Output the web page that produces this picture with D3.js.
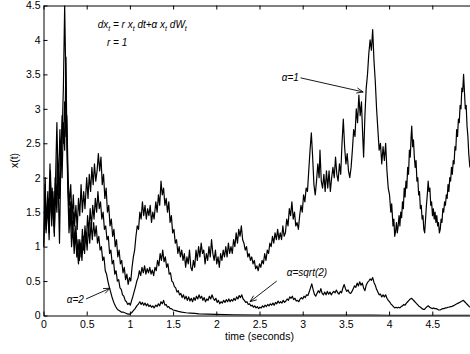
<!DOCTYPE html>
<html>
<head>
<meta charset="utf-8">
<script src="https://cdn.jsdelivr.net/npm/d3@7"></script>
<style>
  html, body { margin: 0; padding: 0; background: #fff; }
  svg { display: block; font-family: "Liberation Sans", Arial, Helvetica, sans-serif; }
</style>
</head>
<body>
<div id="chart"></div>
<script>
/* === Geometric Brownian motion paths, dx = r x dt + alpha x dW === */

var X_TICKS = [0, 0.5, 1, 1.5, 2, 2.5, 3, 3.5, 4, 4.5];
var Y_TICKS = [0, 0.5, 1, 1.5, 2, 2.5, 3, 3.5, 4, 4.5];
var X_LABEL = 'time (seconds)';
var Y_LABEL = 'x(t)';

// alpha = 1 (top path), [t, x]
var PATH_A1 = [[0,1.0],[0.02,1.9],[0.03,1.3],[0.05,1.7],[0.06,1.4],[0.075,2.2],[0.09,1.5],[0.1,1.85],[0.12,1.3],[0.135,2.0],[0.15,1.6],[0.16,2.4],[0.175,1.9],[0.19,2.7],[0.2,2.2],[0.215,2.9],[0.23,2.5],[0.245,3.1],[0.26,2.6],[0.27,2.9],[0.285,2.0],[0.3,1.6],[0.315,1.9],[0.33,1.4],[0.345,1.75],[0.36,1.3],[0.375,1.6],[0.39,1.25],[0.405,1.7],[0.42,1.45],[0.435,1.9],[0.45,1.5],[0.465,1.8],[0.48,1.55],[0.5,2.0],[0.515,1.7],[0.53,2.05],[0.545,1.8],[0.56,2.15],[0.575,1.9],[0.59,2.2],[0.605,1.95],[0.62,2.1],[0.635,2.35],[0.65,2.1],[0.665,2.3],[0.68,1.9],[0.695,2.05],[0.71,1.7],[0.725,1.85],[0.74,1.5],[0.755,1.6],[0.77,1.3],[0.785,1.4],[0.8,1.15],[0.815,1.25],[0.83,1.0],[0.845,1.1],[0.86,0.85],[0.875,0.95],[0.89,0.75],[0.905,0.8],[0.92,0.62],[0.935,0.7],[0.95,0.52],[0.965,0.6],[0.98,0.45],[0.995,0.55],[1.01,0.5],[1.025,0.7],[1.04,0.85],[1.055,0.95],[1.07,1.15],[1.085,1.3],[1.1,1.25],[1.115,1.5],[1.13,1.4],[1.145,1.65],[1.16,1.45],[1.175,1.6],[1.19,1.4],[1.205,1.55],[1.22,1.45],[1.235,1.6],[1.25,1.35],[1.265,1.5],[1.28,1.4],[1.3,1.65],[1.315,1.5],[1.33,1.75],[1.345,1.6],[1.36,1.95],[1.375,1.75],[1.39,1.85],[1.405,1.6],[1.42,1.7],[1.435,1.5],[1.45,1.65],[1.465,1.35],[1.48,1.45],[1.495,1.2],[1.51,1.25],[1.525,1.05],[1.54,1.1],[1.555,0.9],[1.57,1.0],[1.585,0.85],[1.6,0.95],[1.615,0.8],[1.63,0.9],[1.645,0.7],[1.66,0.85],[1.675,0.75],[1.69,0.95],[1.705,0.7],[1.72,0.65],[1.735,0.8],[1.75,0.7],[1.765,0.95],[1.78,0.8],[1.795,1.0],[1.81,0.85],[1.825,1.05],[1.84,0.9],[1.855,0.95],[1.87,0.75],[1.885,0.9],[1.9,0.8],[1.915,1.0],[1.93,0.85],[1.945,1.1],[1.96,0.9],[1.975,0.8],[1.99,0.95],[2.005,0.75],[2.02,0.85],[2.035,0.7],[2.05,0.9],[2.065,0.8],[2.08,0.95],[2.095,0.85],[2.11,1.0],[2.125,0.85],[2.14,1.05],[2.155,0.9],[2.17,1.0],[2.185,0.9],[2.2,1.1],[2.215,1.0],[2.23,1.2],[2.245,1.05],[2.26,1.25],[2.275,1.15],[2.29,1.3],[2.305,1.1],[2.32,1.05],[2.335,0.95],[2.35,1.0],[2.365,0.85],[2.38,0.9],[2.395,0.8],[2.41,0.85],[2.425,0.75],[2.44,0.8],[2.455,0.68],[2.47,0.72],[2.485,0.65],[2.5,0.75],[2.515,0.7],[2.53,0.8],[2.545,0.75],[2.56,0.9],[2.575,0.8],[2.59,0.95],[2.605,0.9],[2.62,1.05],[2.635,1.0],[2.65,1.15],[2.665,1.05],[2.68,1.2],[2.695,1.1],[2.71,1.25],[2.725,1.1],[2.74,1.2],[2.755,1.1],[2.77,1.3],[2.785,1.15],[2.8,1.2],[2.815,1.4],[2.83,1.3],[2.845,1.55],[2.86,1.45],[2.875,1.65],[2.89,1.4],[2.905,1.5],[2.92,1.3],[2.935,1.35],[2.95,1.25],[2.965,1.45],[2.98,1.6],[2.995,1.5],[3.01,1.75],[3.025,1.65],[3.04,1.85],[3.055,1.8],[3.07,2.1],[3.085,2.4],[3.1,2.65],[3.115,2.3],[3.13,1.9],[3.145,1.75],[3.16,1.95],[3.175,2.2],[3.19,2.0],[3.2,2.4],[3.215,1.95],[3.23,1.85],[3.245,2.05],[3.26,1.8],[3.275,2.1],[3.29,1.85],[3.305,2.1],[3.32,1.8],[3.335,2.0],[3.35,2.15],[3.365,2.0],[3.38,2.3],[3.395,2.05],[3.41,1.95],[3.425,2.2],[3.44,2.05],[3.455,2.5],[3.47,2.85],[3.485,2.45],[3.5,2.2],[3.515,2.35],[3.53,2.1],[3.545,2.0],[3.56,2.15],[3.575,2.4],[3.59,2.7],[3.605,2.6],[3.62,3.0],[3.635,2.8],[3.65,3.2],[3.665,2.9],[3.68,3.1],[3.695,2.6],[3.705,2.3],[3.72,2.9],[3.735,3.3],[3.75,3.5],[3.765,3.8],[3.78,4.0],[3.795,3.85],[3.81,4.15],[3.825,3.7],[3.84,3.4],[3.855,3.0],[3.87,2.7],[3.885,2.4],[3.9,2.5],[3.915,2.2],[3.93,2.45],[3.945,2.25],[3.96,2.5],[3.975,2.1],[3.99,1.85],[4.005,1.75],[4.02,1.5],[4.03,1.62],[4.045,1.3],[4.055,1.4],[4.065,1.15],[4.075,1.22],[4.085,1.35],[4.095,1.2],[4.105,1.3],[4.115,1.45],[4.125,1.3],[4.135,1.5],[4.145,1.42],[4.155,1.65],[4.165,1.55],[4.175,1.85],[4.185,1.72],[4.195,1.95],[4.205,1.85],[4.215,2.15],[4.225,2.05],[4.235,2.4],[4.245,2.3],[4.255,2.6],[4.262,2.75],[4.272,2.45],[4.282,2.55],[4.292,2.3],[4.302,2.15],[4.312,2.25],[4.322,1.95],[4.332,2.0],[4.342,1.75],[4.352,1.8],[4.362,1.55],[4.372,1.6],[4.382,1.4],[4.392,1.45],[4.402,1.25],[4.412,1.2],[4.422,1.4],[4.432,1.6],[4.442,1.75],[4.452,1.95],[4.462,1.8],[4.472,1.85],[4.482,1.6],[4.492,1.65],[4.502,1.45],[4.512,1.55],[4.522,1.4],[4.532,1.5],[4.542,1.35],[4.552,1.45],[4.562,1.3],[4.572,1.35],[4.582,1.2],[4.592,1.25],[4.602,1.4],[4.612,1.35],[4.622,1.55],[4.632,1.5],[4.642,1.65],[4.652,1.6],[4.662,1.75],[4.672,1.7],[4.682,1.9],[4.692,1.8],[4.702,2.0],[4.712,1.95],[4.722,2.15],[4.732,2.05],[4.742,2.25],[4.752,2.2],[4.762,2.45],[4.772,2.4],[4.782,2.7],[4.792,2.6],[4.802,2.85],[4.812,2.8],[4.822,3.05],[4.832,3.0],[4.842,3.3],[4.852,3.25],[4.862,3.5],[4.872,3.25],[4.882,3.0],[4.892,3.05],[4.902,2.75],[4.912,2.6],[4.922,2.35],[4.935,2.15]];

// alpha = sqrt(2) (middle path)
var PATH_SQRT2 = [[0,1.0],[0.02,1.7],[0.03,1.2],[0.05,1.6],[0.065,1.1],[0.08,1.9],[0.095,1.3],[0.11,1.7],[0.125,1.2],[0.14,1.8],[0.155,1.5],[0.17,2.2],[0.185,1.7],[0.2,2.5],[0.215,2.0],[0.23,2.8],[0.245,2.4],[0.26,3.75],[0.27,2.6],[0.285,1.8],[0.3,1.4],[0.315,1.65],[0.33,1.2],[0.345,1.5],[0.36,1.05],[0.375,1.3],[0.39,0.95],[0.405,0.75],[0.42,1.1],[0.435,0.85],[0.45,1.25],[0.465,0.95],[0.48,1.3],[0.495,1.05],[0.51,1.45],[0.525,1.2],[0.54,1.55],[0.555,1.3],[0.57,1.6],[0.585,1.4],[0.6,1.7],[0.615,1.5],[0.63,1.8],[0.645,1.55],[0.66,1.65],[0.675,1.4],[0.69,1.5],[0.705,1.25],[0.72,1.3],[0.735,1.1],[0.75,1.15],[0.765,0.9],[0.78,0.95],[0.795,0.75],[0.81,0.8],[0.825,0.6],[0.84,0.65],[0.855,0.5],[0.87,0.52],[0.885,0.4],[0.9,0.38],[0.915,0.3],[0.93,0.28],[0.945,0.22],[0.96,0.2],[0.975,0.16],[0.99,0.18],[1.005,0.15],[1.02,0.22],[1.035,0.28],[1.05,0.35],[1.065,0.42],[1.08,0.5],[1.095,0.55],[1.11,0.65],[1.125,0.58],[1.14,0.7],[1.155,0.62],[1.17,0.72],[1.185,0.6],[1.2,0.68],[1.215,0.62],[1.23,0.7],[1.245,0.6],[1.26,0.66],[1.275,0.58],[1.29,0.7],[1.305,0.65],[1.32,0.8],[1.335,0.72],[1.35,0.9],[1.365,0.8],[1.38,0.95],[1.395,0.78],[1.41,0.85],[1.425,0.7],[1.44,0.75],[1.455,0.6],[1.47,0.62],[1.485,0.5],[1.5,0.48],[1.515,0.42],[1.53,0.4],[1.545,0.34],[1.56,0.36],[1.575,0.3],[1.59,0.32],[1.605,0.26],[1.62,0.3],[1.635,0.24],[1.65,0.28],[1.665,0.22],[1.68,0.27],[1.695,0.21],[1.71,0.25],[1.725,0.2],[1.74,0.26],[1.755,0.22],[1.77,0.28],[1.785,0.24],[1.8,0.3],[1.815,0.25],[1.83,0.28],[1.845,0.22],[1.86,0.26],[1.875,0.2],[1.89,0.24],[1.905,0.22],[1.92,0.28],[1.935,0.24],[1.95,0.3],[1.965,0.25],[1.98,0.22],[1.995,0.25],[2.01,0.19],[2.025,0.22],[2.04,0.17],[2.055,0.2],[2.07,0.18],[2.085,0.22],[2.1,0.19],[2.115,0.23],[2.13,0.2],[2.145,0.24],[2.16,0.2],[2.175,0.23],[2.19,0.21],[2.205,0.25],[2.22,0.22],[2.235,0.27],[2.25,0.24],[2.265,0.29],[2.28,0.26],[2.295,0.3],[2.31,0.24],[2.325,0.22],[2.34,0.19],[2.355,0.2],[2.37,0.16],[2.385,0.17],[2.4,0.14],[2.415,0.15],[2.43,0.12],[2.445,0.14],[2.46,0.11],[2.475,0.13],[2.49,0.1],[2.505,0.12],[2.52,0.11],[2.535,0.14],[2.55,0.12],[2.565,0.15],[2.58,0.13],[2.595,0.16],[2.61,0.14],[2.625,0.17],[2.64,0.15],[2.655,0.18],[2.67,0.15],[2.685,0.19],[2.7,0.17],[2.715,0.21],[2.73,0.18],[2.745,0.2],[2.76,0.18],[2.775,0.22],[2.79,0.19],[2.805,0.21],[2.82,0.24],[2.835,0.22],[2.85,0.27],[2.865,0.25],[2.88,0.28],[2.895,0.23],[2.91,0.25],[2.925,0.21],[2.94,0.22],[2.955,0.2],[2.97,0.24],[2.985,0.26],[3.0,0.24],[3.015,0.28],[3.03,0.26],[3.045,0.3],[3.06,0.29],[3.075,0.34],[3.09,0.4],[3.105,0.46],[3.12,0.38],[3.135,0.31],[3.15,0.28],[3.165,0.32],[3.18,0.36],[3.195,0.33],[3.21,0.39],[3.225,0.32],[3.24,0.3],[3.255,0.34],[3.27,0.3],[3.285,0.35],[3.3,0.31],[3.315,0.34],[3.33,0.3],[3.345,0.33],[3.36,0.35],[3.375,0.33],[3.39,0.37],[3.405,0.33],[3.42,0.31],[3.435,0.35],[3.45,0.33],[3.465,0.4],[3.48,0.45],[3.495,0.39],[3.51,0.35],[3.525,0.37],[3.54,0.33],[3.555,0.32],[3.57,0.35],[3.585,0.39],[3.6,0.43],[3.615,0.41],[3.63,0.47],[3.645,0.43],[3.66,0.49],[3.675,0.44],[3.69,0.47],[3.705,0.4],[3.72,0.36],[3.735,0.44],[3.75,0.48],[3.765,0.5],[3.78,0.53],[3.795,0.51],[3.81,0.55],[3.825,0.48],[3.84,0.44],[3.855,0.38],[3.87,0.34],[3.885,0.3],[3.9,0.31],[3.915,0.27],[3.93,0.3],[3.945,0.27],[3.96,0.3],[3.975,0.25],[3.99,0.22],[4.005,0.2],[4.02,0.17],[4.035,0.15],[4.05,0.13],[4.065,0.11],[4.08,0.12],[4.095,0.11],[4.11,0.12],[4.125,0.11],[4.14,0.13],[4.155,0.14],[4.17,0.16],[4.185,0.15],[4.2,0.18],[4.215,0.2],[4.23,0.22],[4.245,0.24],[4.26,0.25],[4.275,0.23],[4.29,0.21],[4.305,0.19],[4.32,0.17],[4.335,0.15],[4.35,0.13],[4.365,0.12],[4.38,0.1],[4.395,0.09],[4.41,0.09],[4.425,0.11],[4.44,0.13],[4.455,0.14],[4.47,0.12],[4.485,0.11],[4.5,0.1],[4.515,0.11],[4.53,0.1],[4.545,0.1],[4.56,0.09],[4.575,0.08],[4.59,0.08],[4.605,0.09],[4.62,0.1],[4.635,0.1],[4.65,0.11],[4.665,0.11],[4.68,0.12],[4.695,0.12],[4.71,0.13],[4.725,0.13],[4.74,0.14],[4.755,0.15],[4.77,0.16],[4.785,0.17],[4.8,0.18],[4.815,0.19],[4.83,0.2],[4.845,0.21],[4.86,0.22],[4.875,0.2],[4.89,0.18],[4.905,0.16],[4.92,0.14],[4.935,0.12]];

// alpha = 2 (bottom path)
var PATH_A2 = [[0,1.0],[0.02,2.0],[0.03,1.25],[0.05,1.8],[0.065,1.2],[0.08,2.1],[0.095,1.4],[0.11,1.8],[0.125,1.15],[0.14,2.0],[0.155,2.8],[0.17,1.9],[0.185,1.05],[0.2,2.2],[0.215,2.6],[0.23,3.3],[0.245,4.5],[0.255,3.7],[0.265,2.9],[0.28,1.9],[0.295,1.2],[0.31,1.5],[0.325,1.0],[0.34,1.3],[0.355,0.9],[0.37,1.2],[0.385,0.85],[0.4,1.1],[0.415,0.8],[0.43,1.05],[0.445,0.8],[0.46,1.15],[0.475,0.9],[0.49,1.2],[0.505,0.95],[0.52,1.3],[0.535,1.05],[0.55,1.35],[0.565,1.1],[0.58,1.35],[0.595,1.15],[0.61,1.3],[0.625,1.05],[0.64,1.15],[0.655,0.95],[0.67,1.0],[0.685,0.8],[0.7,0.85],[0.715,0.65],[0.73,0.6],[0.745,0.5],[0.76,0.42],[0.775,0.35],[0.79,0.28],[0.805,0.22],[0.82,0.17],[0.835,0.13],[0.85,0.1],[0.865,0.08],[0.88,0.07],[0.9,0.05],[0.92,0.05],[0.94,0.04],[0.96,0.03],[0.98,0.02],[1.0,0.02],[1.02,0.04],[1.04,0.07],[1.06,0.1],[1.08,0.14],[1.1,0.17],[1.115,0.2],[1.13,0.16],[1.145,0.19],[1.16,0.15],[1.175,0.18],[1.19,0.14],[1.205,0.17],[1.22,0.13],[1.235,0.15],[1.25,0.12],[1.265,0.14],[1.28,0.11],[1.3,0.15],[1.315,0.13],[1.33,0.17],[1.345,0.14],[1.36,0.2],[1.375,0.17],[1.39,0.22],[1.405,0.15],[1.42,0.16],[1.435,0.12],[1.45,0.13],[1.465,0.1],[1.48,0.1],[1.5,0.08],[1.53,0.07],[1.56,0.06],[1.6,0.05],[1.65,0.04],[1.7,0.035],[1.75,0.03],[1.8,0.025],[1.9,0.02],[2.0,0.015],[2.2,0.01],[2.5,0.006],[3.0,0.004],[3.5,0.004],[3.8,0.005],[4.0,0.002],[4.5,0.001],[4.935,0.001]];

var SERIES = [PATH_A1, PATH_SQRT2, PATH_A2];

// labels in data units: text anchor, arrow start, arrow tip
var LABELS = [
    { text: 'α=1', at: [2.757, 3.40], from: [2.975, 3.45], to: [3.70, 3.245] },
    { text: 'α=sqrt(2)', at: [2.815, 0.58], from: [2.70, 0.50], to: [2.39, 0.20] },
    { text: 'α=2', at: [0.27, 0.18], from: [0.492, 0.24], to: [0.77, 0.395] }
];

var W = 470, H = 354;
var FONT = 10.5;

var svg = d3.select('#chart').append('svg').attr('width', W).attr('height', H);
svg.append('rect').attr('width', W).attr('height', H).attr('fill', '#fff');

var x = d3.scaleLinear().domain([0, 5]).range([43.5, 475.5]);
var y = d3.scaleLinear().domain([0, 4.5]).range([315.5, 5.5]);

svg.append('defs').append('clipPath').attr('id', 'plot')
    .append('rect').attr('x', 43.5).attr('y', 5.5).attr('width', 432).attr('height', 310);

// Paths
var line = d3.line().x(function(d) { return x(d[0]); }).y(function(d) { return y(d[1]); });
svg.append('g').attr('clip-path', 'url(#plot)').selectAll('path').data(SERIES).enter().append('path')
    .attr('d', line)
    .attr('fill', 'none')
    .attr('stroke', '#000')
    .attr('stroke-width', 1.2)
    .attr('stroke-linejoin', 'round');

// Axes (ticks point inward, matlab style)
function styleAxis(g) {
    g.selectAll('path.domain').attr('stroke', '#000').attr('stroke-width', 1);
    g.selectAll('.tick line').attr('stroke', '#000');
    g.selectAll('.tick text').attr('fill', '#000').attr('font-size', FONT)
        .attr('font-family', '"Liberation Sans", Arial, Helvetica, sans-serif');
}

svg.append('g').attr('transform', 'translate(0,' + y(0) + ')')
    .call(d3.axisBottom(x).tickValues(X_TICKS).tickSizeInner(-4).tickSizeOuter(0).tickPadding(5)
        .tickFormat(d3.format('~g')))
    .call(styleAxis);

svg.append('g').attr('transform', 'translate(0,' + y(4.5) + ')')
    .call(d3.axisTop(x).tickValues(X_TICKS).tickSizeInner(-4).tickSizeOuter(0).tickFormat(''))
    .call(styleAxis);

svg.append('g').attr('transform', 'translate(' + x(0) + ',0)')
    .call(d3.axisLeft(y).tickValues(Y_TICKS).tickSizeInner(-4).tickSizeOuter(0).tickPadding(3)
        .tickFormat(d3.format('~g')))
    .call(styleAxis);

// Axis labels
svg.append('text')
    .attr('x', x(2.5)).attr('y', 340)
    .attr('text-anchor', 'middle')
    .attr('font-size', FONT)
    .text(X_LABEL);

svg.append('text')
    .attr('transform', 'translate(18,' + y(2.25) + ') rotate(-90)')
    .attr('text-anchor', 'middle')
    .attr('font-size', FONT)
    .text(Y_LABEL);

// Equation
var eq = svg.append('text')
    .attr('x', x(0.627)).attr('y', y(4.173))
    .attr('font-size', 10).attr('font-style', 'italic');
var parts = [['dx', 0], ['t', 1], [' = r x', 0], ['t', 1], [' dt+α x', 0], ['t', 1], [' dW', 0], ['t', 1]];
parts.forEach(function(p) {
    eq.append('tspan')
        .attr('font-size', p[1] ? 7 : 10)
        .attr('baseline-shift', p[1] ? '-3' : '0')
        .text(p[0]);
});

svg.append('text')
    .attr('x', x(0.735)).attr('y', y(3.912))
    .attr('font-size', 10).attr('font-style', 'italic')
    .text('r = 1');

// Labels with arrows
var lab = svg.append('g').selectAll('g').data(LABELS).enter().append('g');
lab.append('text')
    .attr('x', function(d) { return x(d.at[0]); })
    .attr('y', function(d) { return y(d.at[1]); })
    .attr('font-size', 10).attr('font-style', 'italic')
    .text(function(d) { return d.text; });

lab.append('path')
    .attr('fill', 'none').attr('stroke', '#000').attr('stroke-width', 0.9)
    .attr('d', function(d) {
        var x0 = x(d.from[0]), y0 = y(d.from[1]);
        var x1 = x(d.to[0]), y1 = y(d.to[1]);
        var a = Math.atan2(y1 - y0, x1 - x0);
        var L = 7, s = 0.38;
        var hx1 = x1 - L * Math.cos(a - s), hy1 = y1 - L * Math.sin(a - s);
        var hx2 = x1 - L * Math.cos(a + s), hy2 = y1 - L * Math.sin(a + s);
        return 'M' + x0 + ',' + y0 + 'L' + x1 + ',' + y1 +
            'M' + hx1 + ',' + hy1 + 'L' + x1 + ',' + y1 + 'L' + hx2 + ',' + hy2;
    });
</script>
</body>
</html>
